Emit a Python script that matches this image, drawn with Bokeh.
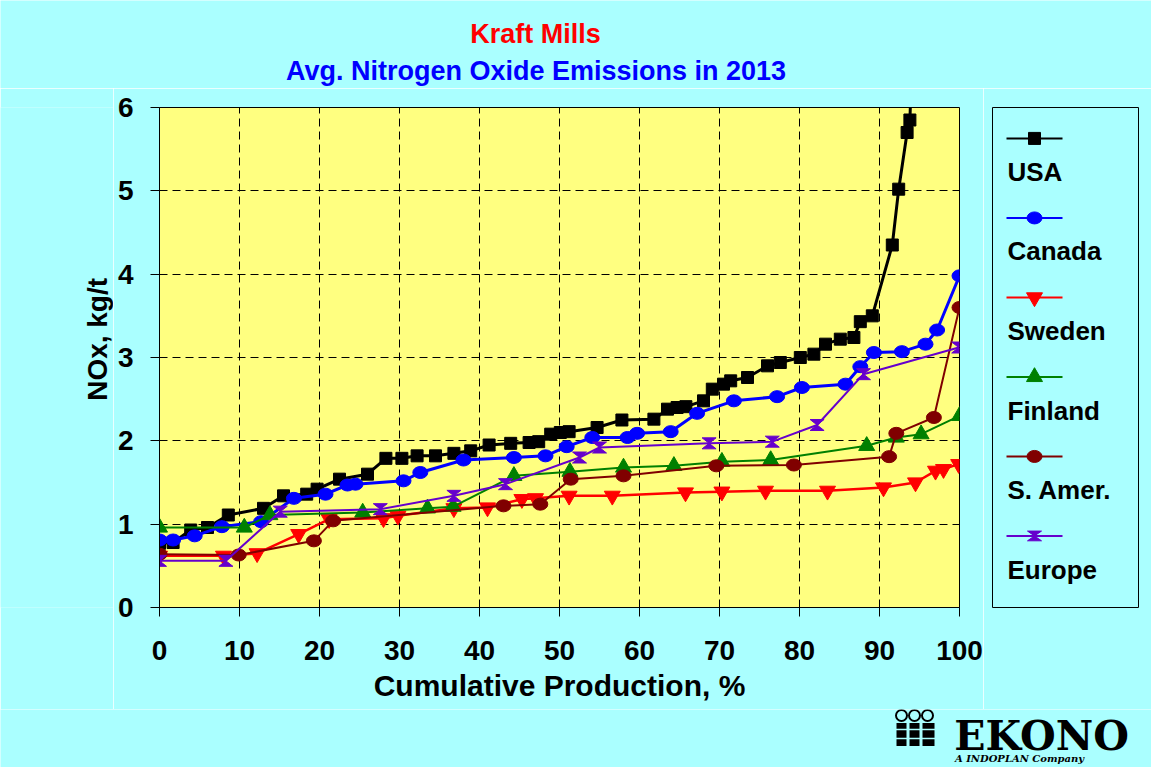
import math
from bokeh.plotting import figure
from bokeh.models import Range1d, FixedTicker
from bokeh.layouts import row, column
from bokeh.embed import file_html
from bokeh.resources import INLINE
from bokeh.core.properties import value

# ---------------- data ----------------
title_1 = "Kraft Mills"
title_2 = "Avg. Nitrogen Oxide Emissions in 2013"
x_title = "Cumulative Production, %"
y_title = "NOx, kg/t"
x_ticks = [0, 10, 20, 30, 40, 50, 60, 70, 80, 90, 100]
y_ticks = [0, 1, 2, 3, 4, 5, 6]

usa_x = [0, 1.7, 3.9, 6.0, 8.6, 13.0, 15.5, 18.4, 19.7, 22.5, 26.0, 28.3, 30.3, 32.2, 34.5,
         36.8, 38.9, 41.2, 43.9, 46.2, 47.4, 48.9, 50.1, 51.2, 54.7, 57.8, 61.8, 63.5, 64.7,
         65.8, 68.0, 69.1, 70.5, 71.4, 73.5, 76.0, 77.6, 80.1, 81.8, 83.25, 85.1, 86.8, 87.6,
         89.1, 91.6, 92.4, 93.45, 93.8, 94.2]
usa_y = [0.77, 0.78, 0.93, 0.96, 1.11, 1.19, 1.34, 1.36, 1.42, 1.54, 1.60, 1.79, 1.79, 1.82, 1.82,
         1.85, 1.88, 1.95, 1.97, 1.98, 1.99, 2.08, 2.10, 2.11, 2.16, 2.25, 2.26, 2.38, 2.40,
         2.41, 2.48, 2.62, 2.68, 2.72, 2.76, 2.90, 2.94, 3.00, 3.04, 3.16, 3.22, 3.24, 3.43,
         3.50, 4.35, 5.02, 5.70, 5.85, 7.0]

canada_x = [0, 1.7, 4.4, 7.8, 12.7, 16.8, 20.75, 23.5, 24.5, 30.5, 32.6, 38.0, 44.3, 48.25,
            50.9, 54.1, 58.5, 59.7, 63.9, 67.2, 71.8, 77.2, 80.3, 85.75, 87.6, 89.3, 92.8,
            95.75, 97.2, 100]
canada_y = [0.81, 0.81, 0.86, 0.97, 1.03, 1.31, 1.36, 1.47, 1.48, 1.52, 1.62, 1.77, 1.80, 1.82,
            1.93, 2.04, 2.04, 2.09, 2.11, 2.33, 2.48, 2.53, 2.64, 2.68, 2.89, 3.06, 3.07,
            3.16, 3.33, 3.98]

sweden_x = [0, 8.0, 12.2, 17.4, 21.2, 28.0, 29.8, 36.8, 41.0, 45.3, 47.0, 51.2, 56.6, 65.75,
            70.3, 75.75, 83.5, 90.5, 94.5, 97.0, 98.0, 99.9]
sweden_y = [0.62, 0.62, 0.65, 0.88, 1.06, 1.07, 1.10, 1.19, 1.20, 1.30, 1.31, 1.34, 1.34, 1.38,
            1.39, 1.40, 1.40, 1.44, 1.50, 1.64, 1.66, 1.72]

finland_x = [0, 10.6, 13.8, 25.4, 33.5, 36.7, 44.3, 51.3, 58.0, 64.3, 70.3, 76.4, 88.4, 92.1,
             95.2, 100]
finland_y = [0.96, 0.96, 1.11, 1.14, 1.19, 1.21, 1.58, 1.63, 1.68, 1.70, 1.75, 1.77, 1.94, 2.04,
             2.08, 2.30]

samer_x = [0, 9.9, 19.3, 21.7, 43.0, 47.6, 51.4, 58.0, 69.6, 79.3, 91.2, 92.1, 96.8, 100]
samer_y = [0.64, 0.63, 0.80, 1.04, 1.22, 1.24, 1.54, 1.58, 1.70, 1.71, 1.81, 2.09, 2.28, 3.60]

europe_x = [0, 8.3, 15.1, 27.6, 36.8, 43.25, 52.5, 55.0, 68.7, 76.6, 82.2, 88.0, 99.9]
europe_y = [0.56, 0.56, 1.15, 1.18, 1.34, 1.48, 1.80, 1.92, 1.97, 1.99, 2.19, 2.80, 3.12]

series_names = ["USA", "Canada", "Sweden", "Finland", "S. Amer.", "Europe"]
series_x = [usa_x, canada_x, sweden_x, finland_x, samer_x, europe_x]
series_y = [usa_y, canada_y, sweden_y, finland_y, samer_y, europe_y]

# ---------------- styles ----------------
series_colors = ["#000000", "#0000FF", "#FF0000", "#008000", "#800000", "#6600CC"]
series_markers = ["square", "ellipse", "inverted_triangle", "triangle", "ellipse", "hourglass"]
series_widths = [3, 3, 2.5, 2, 2, 2]
CYAN = "#AAFFFF"
YELLOW = "#FFFF80"
FONT = "Liberation Sans"

TOP_H = 88      # title strip
ROW_H = 621     # chart + legend row
BOT_H = 58      # logo strip
W_L = 113       # y-title strip
W_A = 983 - W_L  # chart width
W_B = 1151 - W_L - W_A


def draw_markers(fig, kind, xs, ys, color, kx, ky):
    if kind == "square":
        fig.scatter(xs, ys, marker="square", size=12, fill_color=color, line_color=color)
    elif kind == "ellipse":
        fig.ellipse(xs, ys, width=15, height=12, width_units="screen", height_units="screen",
                    fill_color=color, line_color=color)
    elif kind in ("triangle", "inverted_triangle"):
        fig.scatter(xs, ys, marker=kind, size=16, fill_color=color, line_color=color)
    elif kind == "hourglass":
        hw, hh = 7 * kx, 5.5 * ky
        px = [[x - hw, x + hw, x, x + hw, x - hw, x] for x in xs]
        py = [[y + hh, y + hh, y, y - hh, y - hh, y] for y in ys]
        fig.patches(px, py, fill_color=color, line_color=color, line_width=1)


def blank(width, height, xr, yr, **kw):
    f = figure(width=width, height=height, x_range=xr, y_range=yr,
               output_backend="svg", toolbar_location=None,
               x_axis_location=None, y_axis_location=None,
               background_fill_color=CYAN, border_fill_color=CYAN, **kw)
    f.grid.visible = False
    return f


# ---------------- title strip ----------------
pt = blank(1151, TOP_H, Range1d(0, 1151), Range1d(TOP_H, 0), min_border=0,
           outline_line_color=None)
pt.text(x=[535], y=[33], text=[title_1], text_font=value(FONT), text_font_size="27px",
        text_font_style="bold", text_color="#FF0000", text_align="center",
        text_baseline="middle")
pt.text(x=[535.5], y=[70], text=[title_2], text_font=value(FONT), text_font_size="27px",
        text_font_style="bold", text_color="#0000FF", text_align="center",
        text_baseline="middle")

# ---------------- y-title strip ----------------
pl = blank(W_L, ROW_H, Range1d(0, W_L), Range1d(ROW_H, 0), min_border=0,
           outline_line_color=None)
pl.text(x=[97], y=[376 - TOP_H], text=[y_title], angle=math.pi / 2,
        text_font=value(FONT), text_font_size="28px", text_font_style="bold",
        text_color="black", text_align="center", text_baseline="middle")

# ---------------- main chart ----------------
pa = figure(width=W_A, height=ROW_H, x_range=Range1d(0, 100), y_range=Range1d(0, 6),
            output_backend="svg", toolbar_location=None,
            min_border_left=159 - W_L, min_border_right=24, min_border_top=107 - TOP_H,
            min_border_bottom=TOP_H + ROW_H - 607,
            background_fill_color=YELLOW, border_fill_color=CYAN,
            outline_line_color="black", outline_line_width=1)

pa.xaxis.ticker = FixedTicker(ticks=x_ticks)
pa.yaxis.ticker = FixedTicker(ticks=y_ticks)
for ax in (pa.xaxis[0], pa.yaxis[0]):
    ax.axis_line_color = "black"
    ax.axis_line_width = 1
    ax.major_tick_in = 0
    ax.major_tick_out = 9
    ax.major_tick_line_color = "black"
    ax.minor_tick_line_color = None
    ax.major_label_text_font = FONT
    ax.major_label_text_font_size = "28px"
    ax.major_label_text_font_style = "bold"
    ax.major_label_text_color = "black"
    ax.axis_label_text_font = FONT
    ax.axis_label_text_font_style = "bold"
    ax.axis_label_text_color = "black"
pa.xaxis.axis_label = x_title
pa.xaxis.major_label_standoff = 24
pa.yaxis.major_label_standoff = 17
pa.xaxis.axis_label_text_font_size = "30px"
pa.xaxis.axis_label_standoff = 6

pa.grid.grid_line_color = "black"
pa.grid.grid_line_alpha = 1
pa.grid.grid_line_width = 1
pa.grid.grid_line_dash = "8 5"

kx_a = 100 / 800.0
ky_a = 6 / 500.0
for xs, ys, c, m, w in zip(series_x, series_y, series_colors, series_markers, series_widths):
    pa.line(xs, ys, line_color=c, line_width=w)
    draw_markers(pa, m, xs, ys, c, kx_a, ky_a)

# ---------------- legend panel ----------------
pb = blank(W_B, ROW_H, Range1d(0, 146), Range1d(566, 0),
           min_border_left=992 - W_L - W_A, min_border_right=1151 - 1138,
           min_border_top=97 - TOP_H, min_border_bottom=TOP_H + ROW_H - 663,
           outline_line_color="black", outline_line_width=1)

glyph_y = [35 + 90 * i for i in range(len(series_names))]
label_y = [73 + 90 * i for i in range(len(series_names))]
for gy, c, m in zip(glyph_y, series_colors, series_markers):
    pb.line([14, 70], [gy, gy], line_color=c, line_width=2)
    draw_markers(pb, m, [42], [gy], c, 1.0, 1.0)
pb.text(x=[15] * len(series_names), y=label_y, text=series_names,
        text_font=value(FONT), text_font_size="26px", text_font_style="bold",
        text_align="left", text_baseline="middle", text_color="black")

# ---------------- logo strip ----------------
pc = blank(1151, BOT_H, Range1d(0, 1151), Range1d(BOT_H, 0), min_border=0,
           outline_line_color=None)
pc.scatter([901, 914, 927], [6, 6, 6], marker="circle", size=11,
           fill_color=CYAN, line_color="black", line_width=2)
pc.rect([901, 914, 928], [25, 25, 25], width=[10, 10, 12], height=23,
        fill_color="black", line_color=None)
pc.segment(x0=[895, 908, 921], y0=[20, 20, 20], x1=[907, 920, 935], y1=[20, 20, 20],
           line_color=CYAN, line_width=1.5)
pc.segment(x0=[895, 908, 921], y0=[29, 29, 29], x1=[907, 920, 935], y1=[29, 29, 29],
           line_color=CYAN, line_width=1.5)
pc.text(x=[1041], y=[26], text=["EKONO"], text_font=value("DejaVu Serif"),
        text_font_size="41px", text_font_style="bold", text_align="center",
        text_baseline="middle", text_color="black")
pc.text(x=[1019], y=[49], text=["A INDOPLAN Company"], text_font=value("DejaVu Serif"),
        text_font_size="10px", text_font_style="bold italic", text_align="center",
        text_baseline="middle", text_color="black")

layout = column(pt, row(pl, pa, pb, spacing=0), pc, spacing=0)
open("out.html", "w").write(file_html(layout, INLINE))
